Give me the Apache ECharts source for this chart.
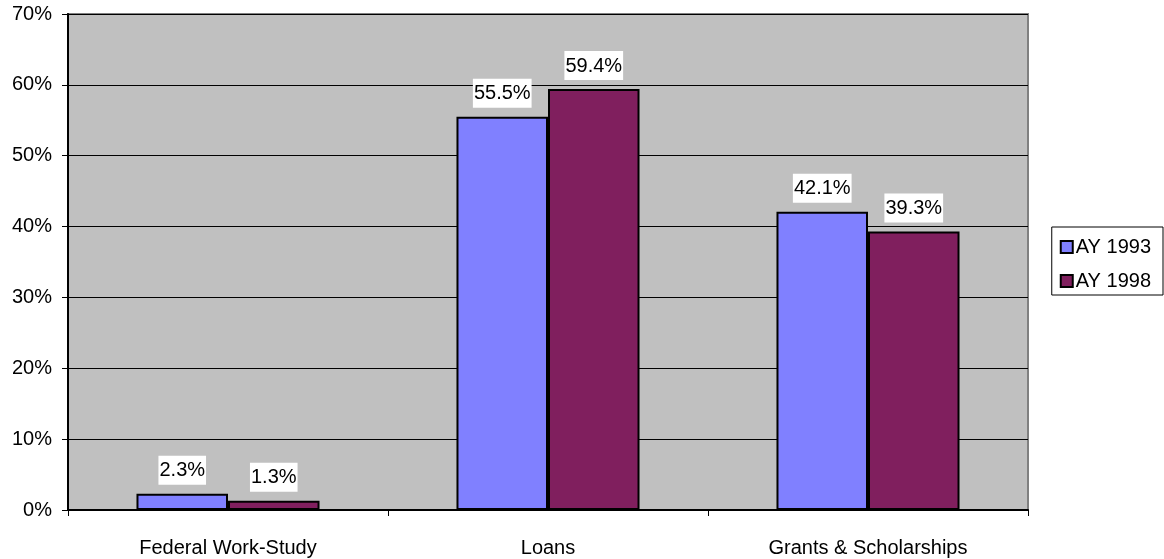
<!DOCTYPE html>
<html>
<head>
<meta charset="utf-8">
<script src="https://cdn.jsdelivr.net/npm/echarts@6/dist/echarts.min.js"></script>
<style>
  html, body { margin: 0; padding: 0; background: #fff; }
  #chart { width: 1164px; height: 559px; }
</style>
</head>
<body>
<div id="chart"></div>
<script>
const categories = ['Federal Work-Study', 'Loans', 'Grants & Scholarships'];
const ay1993 = [2.3, 55.5, 42.1];
const ay1998 = [1.3, 59.4, 39.3];
const yTicks = [0, 10, 20, 30, 40, 50, 60, 70];

const chart = echarts.init(document.getElementById('chart'));

const labelStyle = {
    show: true,
    position: 'top',
    distance: 9,
    formatter: p => p.value.toFixed(1) + '%',
    color: '#000',
    fontFamily: 'Liberation Sans, Arial',
    fontSize: 20,
    lineHeight: 20,
    backgroundColor: '#fff',
    padding: [5, 1, 4, 1]
};

chart.setOption({
    animation: false,
    textStyle: {fontFamily: 'Liberation Sans, Arial'},
    grid: {
        left: 68, right: 136, top: 14, bottom: 49,
        show: true,
        backgroundColor: '#c0c0c0',
        borderColor: '#808080',
        borderWidth: 2
    },
    legend: {
        orient: 'vertical',
        right: 1,
        top: 227,
        itemWidth: 12,
        itemHeight: 12,
        itemGap: 14,
        padding: [10, 12, 4, 8],
        borderColor: '#000',
        borderWidth: 1,
        icon: 'rect',
        itemStyle: {borderColor: '#000', borderWidth: 2},
        textStyle: {fontSize: 20, lineHeight: 20, color: '#000', padding: [0, 0, 0, -2]},
        data: ['AY 1993', 'AY 1998']
    },
    xAxis: {
        type: 'category',
        data: categories,
        axisLine: {lineStyle: {color: '#000', width: 2}},
        axisTick: {show: true, length: 6, lineStyle: {color: '#000'}},
        axisLabel: {fontSize: 20, color: '#000', margin: 28}
    },
    yAxis: {
        type: 'value',
        min: 0,
        max: 70,
        interval: 10,
        axisLine: {show: true, lineStyle: {color: '#000', width: 2}},
        axisTick: {show: true, length: 6, lineStyle: {color: '#000'}},
        axisLabel: {
            fontSize: 20, color: '#000', margin: 16,
            formatter: v => yTicks.includes(v) ? v + '%' : ''
        },
        splitLine: {lineStyle: {color: '#000', width: 1}}
    },
    series: [
        {
            name: 'AY 1993',
            type: 'bar',
            data: ay1993,
            barWidth: '28.6%',
            barGap: '0%',
            itemStyle: {color: '#8080ff', borderColor: '#000', borderWidth: 2},
            label: labelStyle
        },
        {
            name: 'AY 1998',
            type: 'bar',
            data: ay1998,
            barWidth: '28.6%',
            itemStyle: {color: '#801f5e', borderColor: '#000', borderWidth: 2},
            label: labelStyle
        }
    ]
});
</script>
</body>
</html>
